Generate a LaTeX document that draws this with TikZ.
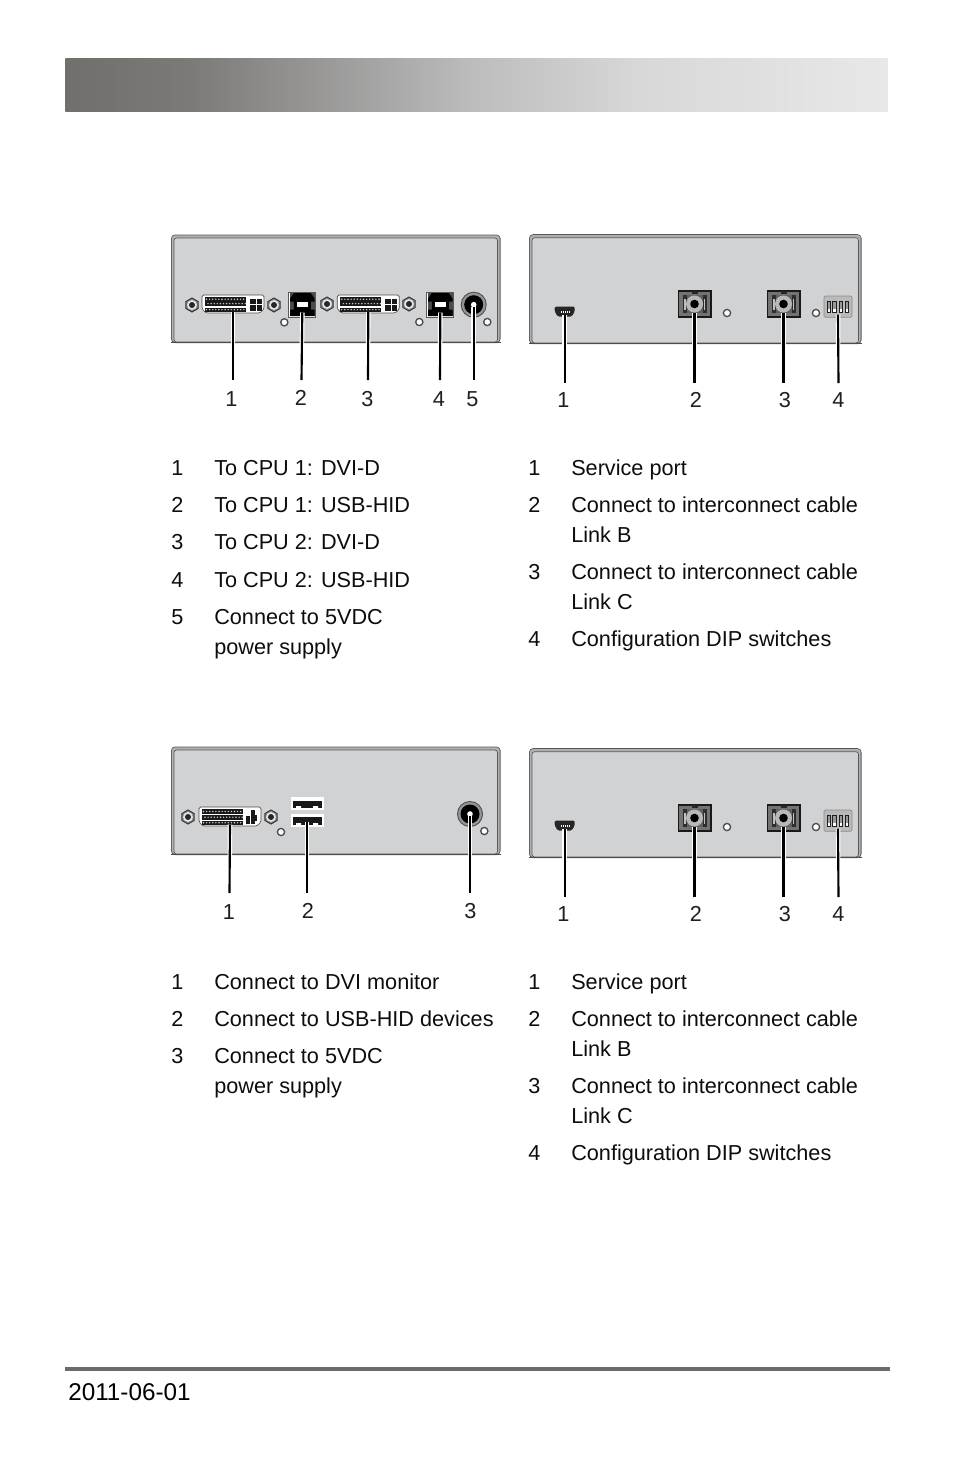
\documentclass[tikz,border=0pt]{standalone}
\usepackage{fontspec}
\setmainfont{Liberation Sans}
\usetikzlibrary{calc}
\definecolor{panelc}{HTML}{D1D2D4}
\definecolor{stripc}{HTML}{AFB0B2}
\definecolor{midg}{HTML}{8C8C8C}
\definecolor{c1}{HTML}{716F6C}
\definecolor{c2}{HTML}{7B7A77}
\definecolor{c3}{HTML}{979695}
\definecolor{c4}{HTML}{BDBDBD}
\definecolor{c5}{HTML}{D8D8D8}
\definecolor{c6}{HTML}{E8E8E8}
\pgfdeclarehorizontalshading{hdr}{100bp}{color(0bp)=(c1);color(25bp)=(c1);color(32.5bp)=(c2);color(40bp)=(c3);color(50bp)=(c4);color(60bp)=(c5);color(75bp)=(c6);color(100bp)=(c6)}
\tikzset{
  txt/.style={anchor=base west,inner sep=0pt,font=\fontsize{16.25pt}{19pt}\selectfont,text=black!95},
  num/.style={anchor=base,inner sep=0pt,font=\fontsize{16.25pt}{19pt}\selectfont,text=black!88},
  leader/.style={line width=1.6pt,black,preaction={draw=white,line width=3.4pt}},
  pics/screw/.style={code={
    \draw[fill=midg,draw=black!80,line width=.7pt] (30:7) -- (90:7) -- (150:7) -- (210:7) -- (270:7) -- (330:7) -- cycle;
    \fill[white!90!black] (0,0) circle (4.9);
    \fill[black!85] (0,0) circle (3);
  }},
  pics/led/.style={code={
    \draw[fill=white,draw=black!70,line width=1pt] (0,0) circle (3.6);
  }},
  pics/dvi/.style={code={
    \draw[fill=white,draw=black!70,line width=.5pt,rounded corners=1.2] (-31,-9) -- (31,-9) -- (31,5) -- (27,9) -- (-27,9) -- (-31,5) -- cycle;
    \fill[black!90] (-28,-7) rectangle (13,2);
    \fill[black!90] (-28,3.5) rectangle (13,8);
    \foreach \i in {0,...,12} {
      \fill[white!80!black] (-26.5+3.1*\i,-4.8) circle (.8);
      \fill[white!80!black] (-25+3.1*\i,-.4) circle (.8);
      \fill[white!80!black] (-26.5+3.1*\i,5.6) circle (.8);
    }
    \fill[black!90] (17,-5.5) rectangle (22.5,0);
    \fill[black!90] (23.5,-5.5) rectangle (29,0);
    \fill[black!90] (17,1) rectangle (22.5,6.5);
    \fill[black!90] (23.5,1) rectangle (29,6.5);
    \coordinate (-pin) at (0,8);
  }},
  pics/dvib/.style={code={
    \draw[fill=white,draw=black!70,line width=.5pt,rounded corners=1.2] (-31,-9.5) -- (31,-9.5) -- (31,5.5) -- (27,9.5) -- (-27,9.5) -- (-31,5.5) -- cycle;
    \fill[black!90] (-28,-7.5) rectangle (13,-2.5);
    \fill[black!90] (-28,-1.5) rectangle (13,3);
    \fill[black!90] (-28,4) rectangle (13,8.5);
    \foreach \i in {0,...,12} {
      \fill[white!80!black] (-26.5+3.1*\i,-5) circle (.8);
      \fill[white!80!black] (-25+3.1*\i,.7) circle (.8);
      \fill[white!80!black] (-26.5+3.1*\i,6.2) circle (.8);
    }
    \fill[black!90] (15.5,-1) rectangle (19.5,7);
    \fill[black!90] (20.5,-7) rectangle (24.5,7);
    \fill[black!90] (25,-2) rectangle (27,4);
    \coordinate (-pin) at (0,8);
  }},
  pics/usbb/.style={code={
    \draw[fill=white,draw=black!65,line width=.6pt] (-13.5,-12.5) rectangle (13.5,12.5);
    \fill[black!70] (-12.3,-11.3) rectangle (12.3,11.5);
    \fill[black] (-8.5,-11.3) -- (8.5,-11.3) -- (12.3,-6) -- (12.3,-3) -- (8.5,-3) -- (8.5,5) -- (12.3,5) -- (12.3,11.5) -- (-12.3,11.5) -- (-12.3,5) -- (-8.5,5) -- (-8.5,-3) -- (-12.3,-3) -- (-12.3,-6) -- cycle;
    \fill[white] (-5.5,-3) rectangle (5.5,2.5);
    \coordinate (-pin) at (0,8);
  }},
  pics/jack/.style={code={
    \fill[black!70] (0,0) circle (13);
    \fill[black!42] (0,0) circle (12);
    \fill[black] (0,0) circle (9.5);
    \fill[white] (0,0) circle (2.8);
    \coordinate (-pin) at (0,2);
  }},
  pics/mini/.style={code={
    \fill[black!85,rounded corners=1] (-10,-5) -- (10,-5) -- (10,0) -- (7,5) -- (-7,5) -- (-10,0) -- cycle;
    \foreach \i in {-2,...,2} \fill[white] (1.9*\i,-.6) rectangle ++(1,1.6);
    \coordinate (-pin) at (0,3);
  }},
  pics/fibre/.style={code={
    \draw[fill=black!55,draw=black!90,line width=.9pt] (-16,-13) rectangle (16.5,13);
    \fill[black!82] (-11.5,-9) rectangle (12,9);
    \fill[black!25] (-10.3,-5) rectangle (-8.8,6);
    \fill[black!25] (9.3,-5) rectangle (10.8,6);
    \fill[black!62] (-7.8,-9) rectangle (8.3,9);
    \fill[black!85] (-2.5,-13) rectangle (3,-10);
    \fill[black!28] (0,0) circle (8.5);
    \fill[black] (0,0) circle (4.3);
    \coordinate (-pin) at (0,9);
  }},
  pics/dip/.style={code={
    \draw[fill=black!27,draw=black!45,line width=.5pt,rounded corners=1] (-14,-10.5) rectangle (14,10.8);
    \foreach \x in {-9,-3.2,3,9} {
      \fill[black!88] (\x-2.4,-5.5) rectangle (\x+2.4,6.5);
      \fill[black!40] (\x-1.4,-4.5) rectangle (\x+1.4,2);
      \fill[white] (\x-1.4,2) rectangle (\x+1.4,5.5);
    }
    \coordinate (-pin) at (0,8);
  }},
}
\newcommand{\panelbox}[4]{%
  \fill[black!65,rounded corners=3pt] (#1,#2) -- (#1,#4) -- (#3,#4) -- (#3,#2) -- cycle;
  \fill[stripc,rounded corners=2.5pt] (#1+.8,#2+.8) -- (#1+.8,#4-1) -- (#3-.8,#4-1) -- (#3-.8,#2+.8) -- cycle;
  \fill[panelc,draw=black!65,line width=.5pt,rounded corners=2pt] (#1+3,#2+3.5) -- (#1+3,#4-1) -- (#3-3,#4-1) -- (#3-3,#2+3.5) -- cycle;
  \fill[black!70] (#1,#4-1.4) rectangle (#3,#4);
}
\newcommand{\panelright}[3]{%
  % #1 y offset, #2 label baseline y, #3 prefix
  \panelbox{529}{234.2+#1}{861.5}{344+#1}
  \pic (#3a) at (564.7,311.5+#1) {mini};
  \pic (#3b) at (694.5,304+#1) {fibre};
  \pic (#3c) at (783.5,304+#1) {fibre};
  \pic (#3d) at (838,306.5+#1) {dip};
  \pic at (727,313+#1) {led};
  \pic at (816,313+#1) {led};
  \coordinate (#3e1) at (564.7,383+#1);
  \coordinate (#3e2) at (694.5,383+#1);
  \coordinate (#3e3) at (783.5,383+#1);
  \coordinate (#3e4) at (838.5,383+#1);
  \draw[leader] (#3e1) -- (#3a-pin);
  \draw[leader] (#3e2) -- (#3b-pin);
  \draw[leader] (#3e3) -- (#3c-pin);
  \draw[leader] (#3e4) -- (#3d-pin);
  \node[num] (#3n1) at (563.5,#2) {1};
  \node[num] (#3n2) at (696,#2) {2};
  \node[num] (#3n3) at (785,#2) {3};
  \node[num] (#3n4) at (838.5,#2) {4};
  \node[txt] (#3t1) at (528,475+#1) {1};
  \node[txt] (#3u1) at (571,475+#1) {Service port};
  \node[txt] (#3t2) at (528,512+#1) {2};
  \node[txt] (#3u2) at (571,512+#1) {Connect to interconnect cable};
  \node[txt] (#3v2) at (571,542+#1) {Link B};
  \node[txt] (#3t3) at (528,579+#1) {3};
  \node[txt] (#3u3) at (571,579+#1) {Connect to interconnect cable};
  \node[txt] (#3v3) at (571,609+#1) {Link C};
  \node[txt] (#3t4) at (528,646+#1) {4};
  \node[txt] (#3u4) at (571,646+#1) {Configuration DIP switches};
}
\begin{document}
\begin{tikzpicture}[x=.75pt,y=-.75pt]
\useasboundingbox (0,0) rectangle (954,1475);
\fill[white] (0,0) rectangle (954,1475);
\node[shade,shading=hdr,minimum width=822.5*.75pt,minimum height=53.5*.75pt,inner sep=0pt,anchor=north west] (header) at (65,58) {};
\node[fill=black!58,minimum width=824.5*.75pt,minimum height=3.5*.75pt,inner sep=0pt,anchor=north west] (footer) at (65,1367) {};
\node[anchor=base west,inner sep=0pt,font=\fontsize{18.2pt}{20pt}\selectfont] (date) at (68,1400) {2011-06-01};

% panel 1
\panelbox{171}{234.5}{500.5}{343}
\pic at (192,305) {screw};
\pic (p1a) at (233,304) {dvi};
\pic at (274,305) {screw};
\pic (p1b) at (302.3,304.5) {usbb};
\pic at (284.3,322.3) {led};
\pic at (327,304) {screw};
\pic (p1c) at (368.3,304) {dvi};
\pic at (409,304) {screw};
\pic (p1d) at (440.3,304.5) {usbb};
\pic at (419.3,322) {led};
\pic (p1e) at (473.7,304.7) {jack};
\pic at (487.3,322) {led};
\coordinate (p1e1) at (233,380);
\coordinate (p1e2) at (301.5,380);
\coordinate (p1e3) at (368,380);
\coordinate (p1e4) at (440,380);
\coordinate (p1e5) at (473.7,380);
\draw[leader] (p1e1) -- (p1a-pin);
\draw[leader] (p1e2) -- (p1b-pin);
\draw[leader] (p1e3) -- (p1c-pin);
\draw[leader] (p1e4) -- (p1d-pin);
\draw[leader] (p1e5) -- (p1e-pin);
\node[num] (p1n1) at (231.5,406) {1};
\node[num] (p1n2) at (301,405.5) {2};
\node[num] (p1n3) at (367.5,406) {3};
\node[num] (p1n4) at (439,406) {4};
\node[num] (p1n5) at (472.5,406) {5};
\node[txt] (p1t1) at (171,475) {1};
\node[txt] (p1u1) at (214,475) {To CPU 1: DVI-D};
\node[txt] (p1t2) at (171,512) {2};
\node[txt] (p1u2) at (214,512) {To CPU 1: USB-HID};
\node[txt] (p1t3) at (171,549) {3};
\node[txt] (p1u3) at (214,549) {To CPU 2: DVI-D};
\node[txt] (p1t4) at (171,587) {4};
\node[txt] (p1u4) at (214,587) {To CPU 2: USB-HID};
\node[txt] (p1t5) at (171,624) {5};
\node[txt] (p1u5) at (214,624) {Connect to 5VDC};
\node[txt] (p1v5) at (214,654) {power supply};

% panel 2
\panelright{0}{407}{p2}

% panel 3
\panelbox{171}{746.5}{500.5}{855}
\pic at (188,817) {screw};
\pic (p3a) at (230,816.5) {dvib};
\pic at (271,817) {screw};
\pic at (281,832) {led};
\node[fill=white,minimum width=33*.75pt,minimum height=13*.75pt,inner sep=0pt] (p3u) at (307.5,803.5) {};
\node[fill=white,minimum width=33*.75pt,minimum height=13*.75pt,inner sep=0pt] (p3v) at (307.5,820.5) {};
\fill[black!90] (293,801) rectangle (322,808);
\fill[black!90] (293,816.5) rectangle (322,825);
\fill[white] (296,806) rectangle (301,808) (313,806) rectangle (318,808) (296,823) rectangle (301,825) (313,823) rectangle (318,825);
\pic (p3c) at (470,814) {jack};
\pic at (484.3,831) {led};
\coordinate (p3e1) at (229.5,893);
\coordinate (p3e2) at (307,893);
\coordinate (p3e3) at (470,893);
\coordinate (p3b-pin) at (307,822);
\draw[leader] (p3e1) -- (p3a-pin);
\draw[leader] (p3e2) -- (p3b-pin);
\draw[leader] (p3e3) -- (p3c-pin);
\node[num] (p3n1) at (229,919) {1};
\node[num] (p3n2) at (308,918.5) {2};
\node[num] (p3n3) at (470.5,918.5) {3};
\node[txt] (p3t1) at (171,989) {1};
\node[txt] (p3u1) at (214,989) {Connect to DVI monitor};
\node[txt] (p3t2) at (171,1026) {2};
\node[txt] (p3u2) at (214,1026) {Connect to USB-HID devices};
\node[txt] (p3t3) at (171,1063) {3};
\node[txt] (p3u3) at (214,1063) {Connect to 5VDC};
\node[txt] (p3v3) at (214,1093) {power supply};

% panel 4
\panelright{514}{921}{p4}
\end{tikzpicture}
\end{document}
